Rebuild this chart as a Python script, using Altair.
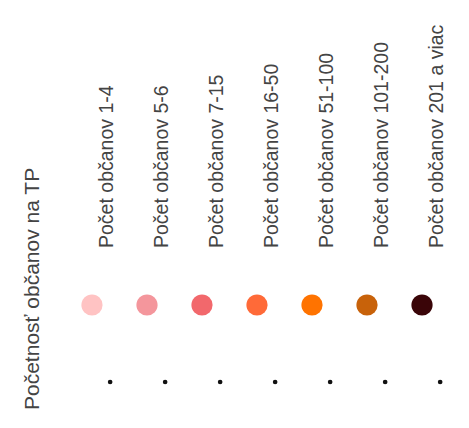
import altair as alt
import pandas as pd

labels = [
    "Počet občanov 1-4",
    "Počet občanov 5-6",
    "Počet občanov 7-15",
    "Počet občanov 16-50",
    "Počet občanov 51-100",
    "Počet občanov 101-200",
    "Počet občanov 201 a viac",
]
colors = ["#FFC3C3", "#F4969C", "#F2686C", "#FF6A38", "#FF7300", "#C8620A", "#3A0508"]
order = list(range(len(labels)))
title_text = "Početnosť občanov na TP"

df = pd.DataFrame({"idx": order, "label": labels, "color": colors})

W, H = 453, 412
FONT = "Liberation Sans"
xscale = alt.Scale(domain=[-1.527, 6.709], nice=False, zero=False)

base = alt.Chart(df)

circles = base.mark_circle(size=450, opacity=1).encode(
    x=alt.X("idx:Q", scale=xscale, axis=None),
    y=alt.value(297),
    color=alt.Color("color:N", scale=None, legend=None),
)

labels_layer = base.transform_calculate(xt="datum.idx + 0.27").mark_text(
    angle=270, align="left", baseline="middle", font=FONT, fontSize=19.5, color="#444444"
).encode(
    x=alt.X("xt:Q", scale=xscale, axis=None),
    y=alt.value(240),
    text="label:N",
)

dots = base.transform_calculate(xd="datum.idx + 0.33").mark_point(
    shape="circle", size=22, filled=True, color="#111111", opacity=1
).encode(
    x=alt.X("xd:Q", scale=xscale, axis=None),
    y=alt.value(374),
)

title = alt.Chart(pd.DataFrame({"t": [title_text]})).mark_text(
    angle=270, align="left", baseline="middle", font=FONT, fontSize=21, color="#444444"
).encode(
    x=alt.value(25),
    y=alt.value(402),
    text="t:N",
)

chart = alt.layer(circles, labels_layer, dots, title).properties(
    width=W, height=H, padding=0,
    autosize=alt.AutoSizeParams(type="fit", contains="padding"),
    background="white",
).configure_view(stroke=None)

chart.save("out.html", embed_options={"renderer": "svg", "actions": False})
